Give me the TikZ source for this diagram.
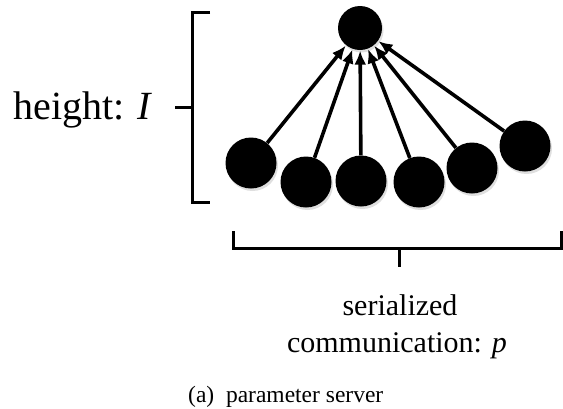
\documentclass[tikz,border=0pt]{standalone}
\usepackage{fontspec}
\setmainfont{Liberation Serif}
\usetikzlibrary{arrows.meta,shadows}

\tikzset{
  worker/.style={circle, fill=black, minimum size=51pt, inner sep=0pt,
    drop shadow={shadow xshift=1.5pt, shadow yshift=-2.5pt, opacity=0.25}},
  server/.style={circle, fill=black, minimum size=44pt, inner sep=0pt,
    drop shadow={shadow xshift=1.5pt, shadow yshift=-2.5pt, opacity=0.25}},
  push/.style={line width=3.6pt, -{Latex[length=14pt,width=12pt]}, shorten >=0.5pt},
  bracketline/.style={line width=3pt, line join=miter},
  biglabel/.style={font=\fontsize{40}{44}\selectfont, inner sep=0pt},
  midlabel/.style={font=\fontsize{30}{36}\selectfont, inner sep=0pt},
  smalllabel/.style={font=\fontsize{23.5}{28}\selectfont, inner sep=0pt}
}

\begin{document}
\begin{tikzpicture}[x=1pt, y=-1pt]
  \useasboundingbox (0,0) rectangle (563,408);

  % parameter server and its workers
  \node[server] (ps) at (360,28) {};
  \node[worker] (w1) at (251,163) {};
  \node[worker] (w2) at (306,182) {};
  \node[worker] (w3) at (361,181) {};
  \node[worker] (w4) at (419,182) {};
  \node[worker] (w5) at (472,168) {};
  \node[worker] (w6) at (525,146) {};

  % every worker pushes to the server
  \foreach \w in {w1,w2,w3,w4,w5,w6}
    \draw[push] (\w) -- (ps);

  % height bracket
  \coordinate (ht) at (210,12);
  \coordinate (hb) at (210,202);
  \coordinate (htick) at (175,107);
  \draw[bracketline] (ht) -- (192,12) -- (192,202) -- (hb);
  \draw[bracketline] (htick) -- (192,107);
  \node[biglabel, anchor=base east] (hlabel) at (153,119) {height: \textit{I}};

  % communication bracket
  \coordinate (cl) at (233,231);
  \coordinate (cr) at (561,231);
  \coordinate (ctick) at (399,267);
  \draw[bracketline] (cl) -- (233,248) -- (561,248) -- (cr);
  \draw[bracketline] (399,248) -- (ctick);
  \node[midlabel, anchor=base] (clabel1) at (400,315) {serialized};
  \node[midlabel, anchor=base] (clabel2) at (397,352) {communication: \textit{p}};

  % caption
  \node[smalllabel, anchor=base west] (cap) at (188,402) {(a)\enspace parameter server};
\end{tikzpicture}
\end{document}
